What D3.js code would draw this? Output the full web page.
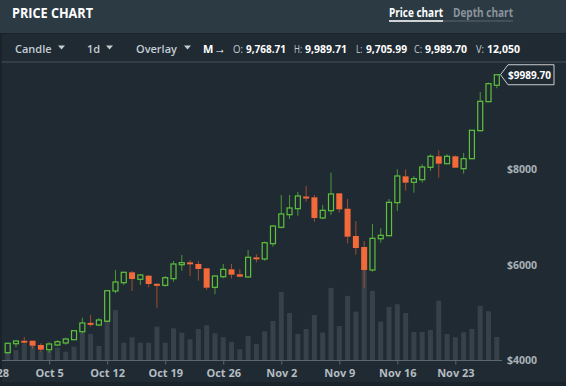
<!DOCTYPE html>
<html>
<head>
<meta charset="utf-8">
<script src="https://cdn.jsdelivr.net/npm/d3@7"></script>
<style>
  html, body { margin: 0; padding: 0; background: #1a232a; }
  svg { display: block; font-family: "Open Sans", sans-serif; }
</style>
</head>
<body>
<svg id="chart" width="566" height="386"></svg>
<script>
// Daily BTC candles, Sep 30 - Nov 28 2017
const startDay = "2017-09-30";
const opens  = [4153,4342,4405,4405,4315,4216,4315,4357,4426,4594,4780,4735,4813,5449,5623,5841,5694,5770,5600,5568,
                5707,6001,6051,6016,5925,5526,5749,5904,5800,5743,6155,6121,6442,6786,7051,7177,7433,7416,6982,7135,
                7500,7177,6604,6373,5890,6547,6610,7303,7857,7731,7786,8046,8277,8122,8277,8017,8227,8815,9424,9768.71];
const highs  = [4360,4405,4483,4410,4351,4372,4420,4468,4625,4888,4945,4882,5460,5890,5854,5870,5806,5785,5610,5764,
                6079,6205,6100,6079,5935,5785,6016,6016,5904,6310,6219,6484,6828,7465,7465,7528,7654,7465,7255,7933,
                7507,7381,6919,6499,6856,6765,7381,8004,8004,7863,8109,8319,8403,8319,8298,8347,8830,9627,9823,9989.71];
const lows   = [4140,4267,4351,4231,4174,4153,4294,4321,4420,4561,4700,4714,4805,5400,5575,5449,5575,5526,5098,5540,
                5644,5875,5764,5665,5470,5380,5715,5715,5736,5728,6051,6085,6379,6765,6961,7030,7324,6904,6961,7045,
                7093,6450,6211,5518,5854,6463,6597,7129,7555,7513,7723,7975,7828,8115,8031,7912,8220,8802,9417,9705.99];
const closes = [4351,4399,4390,4300,4216,4336,4384,4441,4615,4777,4765,4840,5455,5638,5841,5701,5785,5596,5590,5728,
                6016,6043,6016,5911,5518,5764,5904,5791,5749,6157,6145,6463,6814,7066,7192,7444,7402,6982,7143,7486,
                7164,6589,6352,5890,6555,6618,7311,7864,7723,7807,8052,8277,8122,8277,8038,8227,8823,9432,9802,9989.70];
const volumes = [4190,5240,8750,7860,4720,4720,6450,4350,6970,14300,13620,7340,20960,26200,9070,11900,9070,9070,17450,9070,
                 16610,14300,10850,16240,18180,13990,11900,9430,5610,12580,8380,15040,20440,35630,24630,13620,16240,23580,14410,37730,
                 17820,33540,25310,48210,36160,20070,27770,29190,24630,14670,14670,15720,31070,13620,11900,14510,16240,28300,25520,12050];

const weekTicks = ["2017-09-28","2017-10-05","2017-10-12","2017-10-19","2017-10-26","2017-11-02","2017-11-09","2017-11-16","2017-11-23"];
const priceTicks = [4000, 6000, 8000];

const toolbarMenus = ["Candle", "1d", "Overlay"];
const ohlcvKeys = ["O:", "H:", "L:", "C:", "V:"];
const tabs = ["Price chart", "Depth chart"];

const parse = d3.utcParse("%Y-%m-%d");
const day0 = parse(startDay);
const candles = opens.map((o, i) => ({
  date: d3.utcDay.offset(day0, i),
  open: o, high: highs[i], low: lows[i], close: closes[i], vol: volumes[i]
}));

const bg = "#1f2a33";
const up = "#5fc23d", upWick = "#4c9a36";
const down = "#f4693a", downWick = "#a24d30";

const svg = d3.select("#chart");

// panels
svg.append("rect").attr("x", 0).attr("y", 0).attr("width", 566).attr("height", 386).attr("fill", "#1a232a");
svg.append("rect").attr("x", 2).attr("y", 34).attr("width", 564).attr("height", 348).attr("fill", bg);
svg.append("rect").attr("x", 0).attr("y", 0).attr("width", 566).attr("height", 33).attr("fill", "#2c3a44");

// header
svg.append("text").attr("x", 12).attr("y", 18).attr("fill", "#fff")
  .style("font-size", "15px").style("font-weight", 700)
  .attr("textLength", 81).attr("lengthAdjust", "spacingAndGlyphs")
  .text("PRICE CHART");

const tabX = [389, 453], tabW = [54, 60];
tabs.forEach((t, i) => {
  svg.append("text").attr("x", tabX[i]).attr("y", 17)
    .attr("fill", i === 0 ? "#fff" : "#8a949b")
    .style("font-size", "11.5px").style("font-weight", 700)
    .attr("textLength", tabW[i]).attr("lengthAdjust", "spacingAndGlyphs")
    .text(t);
});
svg.append("line").attr("x1", 389).attr("x2", 513).attr("y1", 21).attr("y2", 21)
  .attr("stroke", "#5a6670").attr("stroke-width", 1);
svg.append("line").attr("x1", 389).attr("x2", 443).attr("y1", 21).attr("y2", 21)
  .attr("stroke", "#fff").attr("stroke-width", 1.5);

// toolbar
const menuX = [15, 87, 136], caretX = [58, 106, 184];
toolbarMenus.forEach((m, i) => {
  svg.append("text").attr("x", menuX[i]).attr("y", 53).attr("fill", "#c3cdd4")
    .style("font-size", "11px").style("font-weight", 600).text(m);
  svg.append("path")
    .attr("d", `M${caretX[i]},45.5 L${caretX[i] + 7},45.5 L${caretX[i] + 3.5},49.5 Z`)
    .attr("fill", "#c3cdd4");
});
svg.append("text").attr("x", 203).attr("y", 53).attr("fill", "#fff")
  .style("font-size", "11px").style("font-weight", 700).text("M");
svg.append("text").attr("x", 214).attr("y", 53).attr("fill", "#fff")
  .style("font-size", "12px").style("font-weight", 400).text("→");

const last = candles[candles.length - 1];
const fmt2 = d3.format(",.2f"), fmt0 = d3.format(",");
const ohlcvVals = [fmt2(last.open), fmt2(last.high), fmt2(last.low), fmt2(last.close), fmt0(last.vol)];
const keyX = [233, 294, 356, 414, 476], keyW = [10, 8, 6.5, 8, 8];
const valX = [246, 305, 366, 425, 487], valW = [40, 42, 41, 42, 33];
ohlcvKeys.forEach((k, i) => {
  svg.append("text").attr("x", keyX[i]).attr("y", 53).attr("fill", "#c3cdd4")
    .style("font-size", "11px").style("font-weight", 400)
    .attr("textLength", keyW[i]).attr("lengthAdjust", "spacingAndGlyphs")
    .text(k);
  svg.append("text").attr("x", valX[i]).attr("y", 53).attr("fill", "#fff")
    .style("font-size", "11px").style("font-weight", 700)
    .attr("textLength", valW[i]).attr("lengthAdjust", "spacingAndGlyphs")
    .text(ohlcvVals[i]);
});

svg.append("line").attr("x1", 2).attr("x2", 566).attr("y1", 62).attr("y2", 62)
  .attr("stroke", "#46525b").attr("stroke-width", 1);

// scales
const x = d3.scaleUtc()
  .domain([candles[0].date, last.date])
  .range([7.7, 496.8]);

const y = d3.scaleLinear()
  .domain([4000, 10000])
  .range([360, 74.25]);

const yVol = d3.scaleLinear()
  .domain([0, 156000])
  .range([360, 62]);

const chart = svg.append("g");

// volume bars
chart.append("g")
  .selectAll("rect")
  .data(candles)
  .join("rect")
  .attr("x", d => x(d.date) - 2.5)
  .attr("y", d => yVol(d.vol))
  .attr("width", 5)
  .attr("height", d => yVol(0) - yVol(d.vol))
  .attr("fill", "#36414a");

// axes
chart.append("line").attr("x1", 2).attr("x2", 502).attr("y1", 360.5).attr("y2", 360.5)
  .attr("stroke", "#5c6870").attr("stroke-width", 1);

const xAxis = chart.append("g")
  .attr("transform", "translate(0,360.5)")
  .call(d3.axisBottom(x)
    .tickValues(weekTicks.map(parse))
    .tickFormat(d3.utcFormat("%b %-d"))
    .tickSize(4)
    .tickPadding(5));
xAxis.select(".domain").remove();
xAxis.selectAll(".tick line").attr("stroke", "#5c6870");
xAxis.selectAll(".tick text").attr("fill", "#b4bcc2")
  .style("font-size", "11px").style("font-weight", 700).style("font-family", "Open Sans");

const yAxis = chart.append("g")
  .attr("transform", "translate(505,0)")
  .call(d3.axisRight(y)
    .tickValues(priceTicks)
    .tickFormat(d => "$" + d)
    .tickSize(0)
    .tickPadding(2));
yAxis.select(".domain").remove();
yAxis.selectAll(".tick text").attr("fill", "#a9b1b7")
  .style("font-size", "10.5px").style("font-weight", 700).style("font-family", "Open Sans");

// candles
const cg = chart.append("g")
  .selectAll("g")
  .data(candles)
  .join("g");

cg.append("line")
  .attr("x1", d => x(d.date)).attr("x2", d => x(d.date))
  .attr("y1", d => y(d.high)).attr("y2", d => y(Math.max(d.open, d.close)))
  .attr("stroke", d => d.close >= d.open ? upWick : downWick);
cg.append("line")
  .attr("x1", d => x(d.date)).attr("x2", d => x(d.date))
  .attr("y1", d => y(Math.min(d.open, d.close))).attr("y2", d => y(d.low))
  .attr("stroke", d => d.close >= d.open ? upWick : downWick);

cg.append("rect")
  .attr("x", d => d.close >= d.open ? x(d.date) - 2.5 : x(d.date) - 3)
  .attr("y", d => y(Math.max(d.open, d.close)))
  .attr("width", d => d.close >= d.open ? 5 : 6)
  .attr("height", d => Math.max(2, y(Math.min(d.open, d.close)) - y(Math.max(d.open, d.close))))
  .attr("fill", d => d.close >= d.open ? "none" : down)
  .attr("stroke", d => d.close >= d.open ? up : "none")
  .attr("stroke-width", 1.2);

// last price tag
const ty = y(last.close);
svg.append("path")
  .attr("d", `M500.5,${ty} L508,${ty - 10} L554,${ty - 10} L554,${ty + 10} L508,${ty + 10} Z`)
  .attr("fill", bg).attr("stroke", "#c8cdd0").attr("stroke-width", 1);
svg.append("text").attr("x", 508).attr("y", ty + 4)
  .attr("fill", "#fff").style("font-size", "11px").style("font-weight", 700)
  .attr("textLength", 43).attr("lengthAdjust", "spacingAndGlyphs")
  .text("$" + d3.format(".2f")(last.close));
</script>
</body>
</html>
